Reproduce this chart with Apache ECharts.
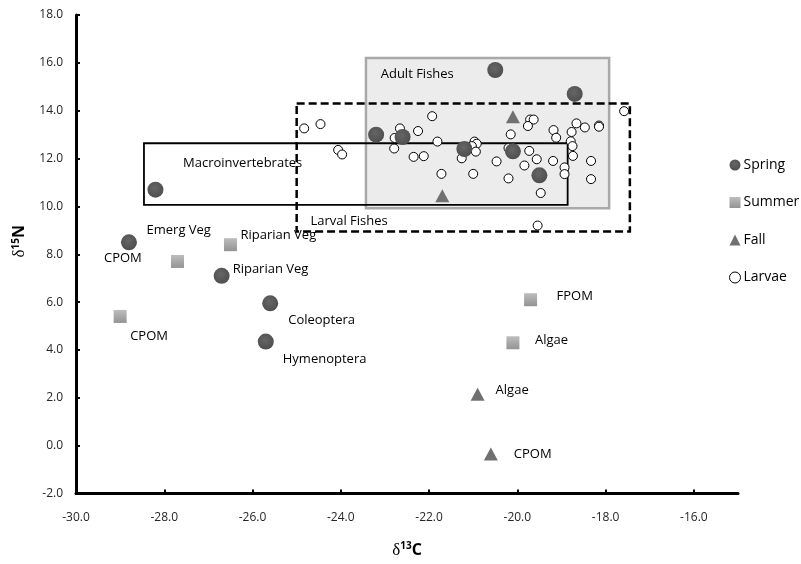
<!DOCTYPE html>
<html>
<head>
<meta charset="utf-8">
<script src="https://cdn.jsdelivr.net/npm/echarts@6/dist/echarts.min.js"></script>
<style>
  html, body { margin: 0; padding: 0; background: #fff; }
  #chart { width: 801px; height: 564px; }
</style>
</head>
<body>
<div id="chart"></div>
<script>
// Axis ticks
const xTicks = [-30, -28, -26, -24, -22, -20, -18, -16];
const yTicks = [-2, 0, 2, 4, 6, 8, 10, 12, 14, 16, 18];

// Source and consumer isotope values (d13C, d15N)
const springPoints = [
  [-28.2, 10.7], [-28.8, 8.5], [-26.7, 7.1], [-25.6, 5.95], [-25.7, 4.35],
  [-20.5, 15.7], [-18.7, 14.7], [-23.2, 13.0], [-22.6, 12.9],
  [-21.2, 12.4], [-20.1, 12.3], [-19.5, 11.3]
];
const springNames = ['', 'CPOM', 'Riparian Veg', 'Coleoptera', 'Hymenoptera', '', '', '', '', '', '', ''];

const summerPoints = [[-27.7, 7.7], [-26.5, 8.4], [-29.0, 5.4], [-19.7, 6.1], [-20.1, 4.3]];
const summerNames = ['Emerg Veg', 'Riparian Veg', 'CPOM', 'FPOM', 'Algae'];

const fallPoints = [[-20.1, 13.75], [-21.7, 10.45], [-20.9, 2.15], [-20.6, -0.35]];
const fallNames = ['', '', 'Algae', 'CPOM'];

const larvaePoints = [
  [-17.58, 13.98], [-24.83, 13.26], [-24.46, 13.44], [-24.06, 12.36], [-23.97, 12.17],
  [-21.93, 13.77], [-22.66, 13.26], [-22.78, 12.86], [-22.79, 12.42], [-22.25, 13.15],
  [-22.35, 12.07], [-22.12, 12.10], [-21.81, 12.71], [-21.72, 11.36], [-20.97, 12.71],
  [-20.92, 12.62], [-21.03, 12.52], [-20.94, 12.29], [-21.26, 12.01], [-21.00, 11.36],
  [-20.47, 11.88], [-20.15, 13.01], [-20.20, 12.44], [-20.20, 11.17], [-19.71, 13.63],
  [-19.63, 13.63], [-19.76, 13.36], [-19.73, 12.32], [-19.56, 11.97], [-19.84, 11.71],
  [-19.47, 10.56], [-19.54, 9.20], [-19.18, 13.19], [-19.12, 12.87], [-19.19, 11.90],
  [-18.93, 11.63], [-18.93, 11.35], [-18.79, 12.72], [-18.75, 12.52], [-18.74, 12.11],
  [-18.77, 13.11], [-18.66, 13.47], [-18.47, 13.30], [-18.15, 13.38], [-18.15, 13.33],
  [-18.33, 11.90], [-18.33, 11.14]
];

// Group ranges [xMin, yMax, xMax, yMin]
const groupNames = ['Adult Fishes', 'Larval Fishes', 'Macroinvertebrates'];
const groupRanges = [
  [-23.43, 16.2, -17.92, 9.92],
  [-25.0, 14.3, -17.45, 8.95],
  [-28.46, 12.64, -18.86, 10.06]
];

const FONT = '"Open Sans", "Liberation Sans", sans-serif';

// Pixel offsets of the point labels from their marks
const labelOffsets = {
  spring: { 1: [-25, 16], 2: [11, -6], 3: [18, 17], 4: [17, 18] },
  summer: { 0: [-31, -31.5], 1: [10, -9.5], 2: [10, 20], 3: [26, -3.5], 4: [22, -2] },
  fall: { 2: [18, -3.5], 3: [23, 0] }
};

function buildItems(points, names, offsets) {
  return points.map((p, i) => {
    const item = { value: p, name: names[i] || '' };
    if (names[i]) {
      item.label = {
        show: true,
        formatter: names[i],
        position: 'inside',
        align: 'left',
        verticalAlign: 'middle',
        offset: offsets[i] || [12, 0],
        color: '#000',
        fontSize: 13,
        fontFamily: FONT
      };
    }
    return item;
  });
}

const boxStyles = [
  { color: '#ececec', borderColor: '#a9a9a9', borderWidth: 2.5 },
  { color: 'rgba(0,0,0,0)', borderColor: '#000', borderWidth: 2.5, borderType: [8, 4] },
  { color: 'rgba(0,0,0,0)', borderColor: '#000', borderWidth: 1.8 }
];
const boxLabelPos = [[16, 11], [15, 113], [40, 14]];

const markAreaData = groupRanges.map((r, i) => [
  {
    name: groupNames[i],
    coord: [r[0], r[1]],
    itemStyle: boxStyles[i],
    label: { position: boxLabelPos[i] }
  },
  { coord: [r[2], r[3]] }
]);

const chart = echarts.init(document.getElementById('chart'), null, { renderer: 'canvas' });

chart.setOption({
  animation: false,
  backgroundColor: '#fff',
  textStyle: { fontFamily: FONT },
  grid: { left: 76, right: 63, top: 15, bottom: 68 },
  xAxis: {
    type: 'value',
    min: -30,
    max: -15,
    interval: 2,
    name: '{d|δ}{s|13}{c|C}',
    nameLocation: 'middle',
    nameGap: 48,
    nameTextStyle: {
      rich: {
        d: { fontSize: 17, fontFamily: '"Liberation Serif", serif', color: '#000' },
        s: { fontSize: 10, fontWeight: 'bold', fontFamily: FONT, color: '#000', padding: [0, 0, 8, 0] },
        c: { fontSize: 16, fontWeight: 'bold', fontFamily: FONT, color: '#000' }
      }
    },
    axisLine: { onZero: false, lineStyle: { color: '#000', width: 3 } },
    axisTick: { inside: true, length: 4, customValues: xTicks, lineStyle: { color: '#000', width: 2 } },
    axisLabel: {
      customValues: xTicks,
      formatter: v => Number(v).toFixed(1),
      margin: 18,
      fontSize: 12,
      color: '#262626',
      fontFamily: FONT
    },
    splitLine: { show: false }
  },
  yAxis: {
    type: 'value',
    min: -2,
    max: 18,
    interval: 2,
    name: '{d|δ}{s|15}{c|N}',
    nameLocation: 'middle',
    nameRotate: 90,
    nameGap: 40,
    nameTextStyle: {
      padding: [0, 0, 0, 26],
      rich: {
        d: { fontSize: 17, fontFamily: '"Liberation Serif", serif', color: '#000' },
        s: { fontSize: 10, fontWeight: 'bold', fontFamily: FONT, color: '#000', padding: [0, 0, 8, 0] },
        c: { fontSize: 16, fontWeight: 'bold', fontFamily: FONT, color: '#000' }
      }
    },
    axisLine: { onZero: false, lineStyle: { color: '#000', width: 3 } },
    axisTick: { inside: true, length: 4, customValues: yTicks, lineStyle: { color: '#000', width: 2 } },
    axisLabel: {
      customValues: yTicks,
      formatter: v => Number(v).toFixed(1),
      margin: 13,
      fontSize: 12,
      color: '#262626',
      fontFamily: FONT
    },
    splitLine: { show: false }
  },
  legend: {
    orient: 'vertical',
    left: 724,
    top: 153,
    itemWidth: 11,
    itemHeight: 11,
    itemGap: 23.5,
    textStyle: { fontSize: 14, color: '#000', fontFamily: FONT, padding: [0, 0, 0, -2] },
    data: [
      { name: 'Spring', icon: 'circle' },
      { name: 'Summer', icon: 'rect' },
      { name: 'Fall', icon: 'triangle' },
      { name: 'Larvae', icon: 'circle', itemStyle: { color: '#fff', borderColor: '#000', borderWidth: 1 } }
    ]
  },
  series: [
    {
      name: 'Groups',
      type: 'scatter',
      data: [],
      silent: true,
      markArea: {
        silent: true,
        label: { show: true, color: '#000', fontSize: 13, fontFamily: FONT },
        emphasis: { disabled: true },
        data: markAreaData
      }
    },
    {
      name: 'Larvae',
      type: 'scatter',
      symbol: 'circle',
      symbolSize: 9,
      itemStyle: { color: '#fff', borderColor: '#000', borderWidth: 1, opacity: 1 },
      data: larvaePoints,
      z: 3
    },
    {
      name: 'Spring',
      type: 'scatter',
      symbol: 'circle',
      symbolSize: 16,
      itemStyle: {
        color: new echarts.graphic.RadialGradient(0.45, 0.4, 0.6, [
          { offset: 0, color: '#666666' },
          { offset: 1, color: '#4e4e4e' }
        ]),
        opacity: 1
      },
      data: buildItems(springPoints, springNames, labelOffsets.spring),
      z: 4
    },
    {
      name: 'Summer',
      type: 'scatter',
      symbol: 'rect',
      symbolSize: 13,
      itemStyle: {
        color: new echarts.graphic.LinearGradient(0, 0, 0, 1, [
          { offset: 0, color: '#bdbdbd' },
          { offset: 1, color: '#939393' }
        ]),
        opacity: 1
      },
      data: buildItems(summerPoints, summerNames, labelOffsets.summer),
      z: 4
    },
    {
      name: 'Fall',
      type: 'scatter',
      symbol: 'triangle',
      symbolSize: [14, 13],
      itemStyle: { color: '#707070', opacity: 1 },
      data: buildItems(fallPoints, fallNames, labelOffsets.fall),
      z: 4
    }
  ]
});
</script>
</body>
</html>
